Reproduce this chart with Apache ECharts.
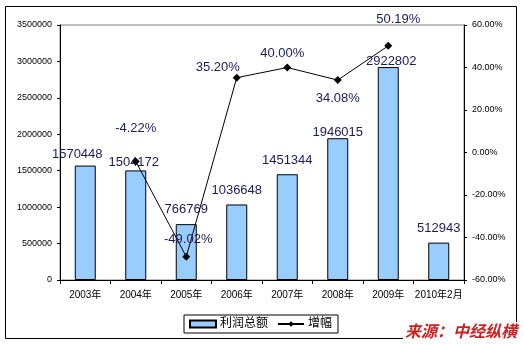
<!DOCTYPE html>
<html>
<head>
<meta charset="utf-8">
<script src="https://cdn.jsdelivr.net/npm/echarts@6/dist/echarts.min.js"></script>
<style>
  html, body { margin: 0; padding: 0; background: #fff; }
  #chart { width: 524px; height: 345px; }
</style>
</head>
<body>
<div id="chart"></div>
<script>
// Categories and values
const categories = ['2003年', '2004年', '2005年', '2006年', '2007年', '2008年', '2009年', '2010年2月'];
const profitTotal = [1570448, 1504172, 766769, 1036648, 1451344, 1946015, 2922802, 512943];
const growthPct = [null, -4.22, -49.02, 35.20, 40.00, 34.08, 50.19, null];

// Axis tick settings
const leftAxisMin = 0, leftAxisMax = 3500000, leftAxisStep = 500000;
const rightAxisMin = -60, rightAxisMax = 60, rightAxisStep = 20;

// Hand-placed label nudges (pixels) for readability
const barLabelNudge = [[-8, -4.5], [-2, -1.5], [0, -8], [0, -7.5], [0, -7], [0, 1], [3, 1], [0, -8]];
const lineLabelNudge = [[0, 0], [0, -33.5], [2, -17], [-19, -10], [-5, -14], [0, 18], [10, -26], [0, 0]];

const FONT = "'Liberation Sans', Arial, 'Noto Sans CJK SC', sans-serif";
const LABEL_COLOR = '#1c1c58';

const chart = echarts.init(document.getElementById('chart'), null, { renderer: 'canvas' });

const barData = profitTotal.map((v, i) => ({
  value: v,
  label: { offset: barLabelNudge[i] }
}));
const lineData = growthPct.map((v, i) => ({
  value: v,
  label: { offset: lineLabelNudge[i] }
}));

chart.setOption({
  animation: false,
  backgroundColor: '#fff',
  textStyle: { fontFamily: FONT },
  grid: {
    left: 60, right: 60, top: 25, bottom: 65,
    show: true, borderColor: '#808080', borderWidth: 1, backgroundColor: 'transparent'
  },
  legend: {
    left: 184, top: 315,
    padding: [3, 6, 3, 5],
    borderColor: '#000', borderWidth: 1,
    itemGap: 9, itemWidth: 26, itemHeight: 7,
    textStyle: { fontSize: 12, color: '#000', fontFamily: FONT, padding: [0, 0, 0, -1] },
    data: [
      { name: '利润总额', icon: 'rect' },
      { name: '增幅' }
    ]
  },
  xAxis: {
    type: 'category',
    data: categories,
    boundaryGap: true,
    axisLine: { lineStyle: { color: '#000', width: 1 } },
    axisTick: { show: true, length: 4, inside: false, lineStyle: { color: '#000' } },
    axisLabel: { fontSize: 10, color: '#000', margin: 10, interval: 0, fontFamily: FONT },
    splitLine: { show: false }
  },
  yAxis: [
    {
      type: 'value',
      min: leftAxisMin, max: leftAxisMax, interval: leftAxisStep,
      axisLine: { show: true, lineStyle: { color: '#000', width: 1 } },
      axisTick: { show: true, length: 3, lineStyle: { color: '#000' } },
      axisLabel: {
        fontSize: 9, color: '#000', margin: 8, fontFamily: FONT,
        formatter: v => String(v)
      },
      splitLine: { show: false }
    },
    {
      type: 'value',
      min: rightAxisMin, max: rightAxisMax, interval: rightAxisStep,
      axisLine: { show: true, lineStyle: { color: '#000', width: 1 } },
      axisTick: { show: true, length: 3, lineStyle: { color: '#000' } },
      axisLabel: {
        fontSize: 9, color: '#000', margin: 8, fontFamily: FONT,
        formatter: v => v.toFixed(2) + '%'
      },
      splitLine: { show: false }
    }
  ],
  series: [
    {
      name: '利润总额',
      type: 'bar',
      yAxisIndex: 0,
      barWidth: 21,
      data: barData,
      itemStyle: { color: '#99ccff', borderColor: '#000', borderWidth: 1 },
      label: {
        show: true, position: 'top', distance: 0,
        fontSize: 13, color: LABEL_COLOR, fontFamily: FONT
      },
      emphasis: { disabled: true }
    },
    {
      name: '增幅',
      type: 'line',
      yAxisIndex: 1,
      data: lineData,
      connectNulls: false,
      symbol: 'diamond',
      symbolSize: 8,
      showAllSymbol: true,
      lineStyle: { color: '#000', width: 1 },
      itemStyle: { color: '#000' },
      label: {
        show: true, position: 'inside',
        fontSize: 13, color: LABEL_COLOR, fontFamily: FONT,
        formatter: p => (p.value == null ? '' : Number(p.value).toFixed(2) + '%')
      },
      emphasis: { disabled: true },
      z: 3
    }
  ],
  graphic: [
    {
      type: 'rect',
      silent: true,
      shape: { x: 5.5, y: 6.5, width: 511, height: 332 },
      style: { fill: 'none', stroke: '#000', lineWidth: 1 },
      z: 0
    },
    {
      type: 'text',
      silent: true,
      right: 7, top: 322,
      style: {
        text: '来源：中经纵横',
        fill: '#cc2222',
        font: "italic bold 16px 'Noto Sans CJK SC', sans-serif",
        backgroundColor: '#fff',
        padding: [1, 0, 1, 2]
      },
      z: 10
    }
  ]
});
</script>
</body>
</html>
